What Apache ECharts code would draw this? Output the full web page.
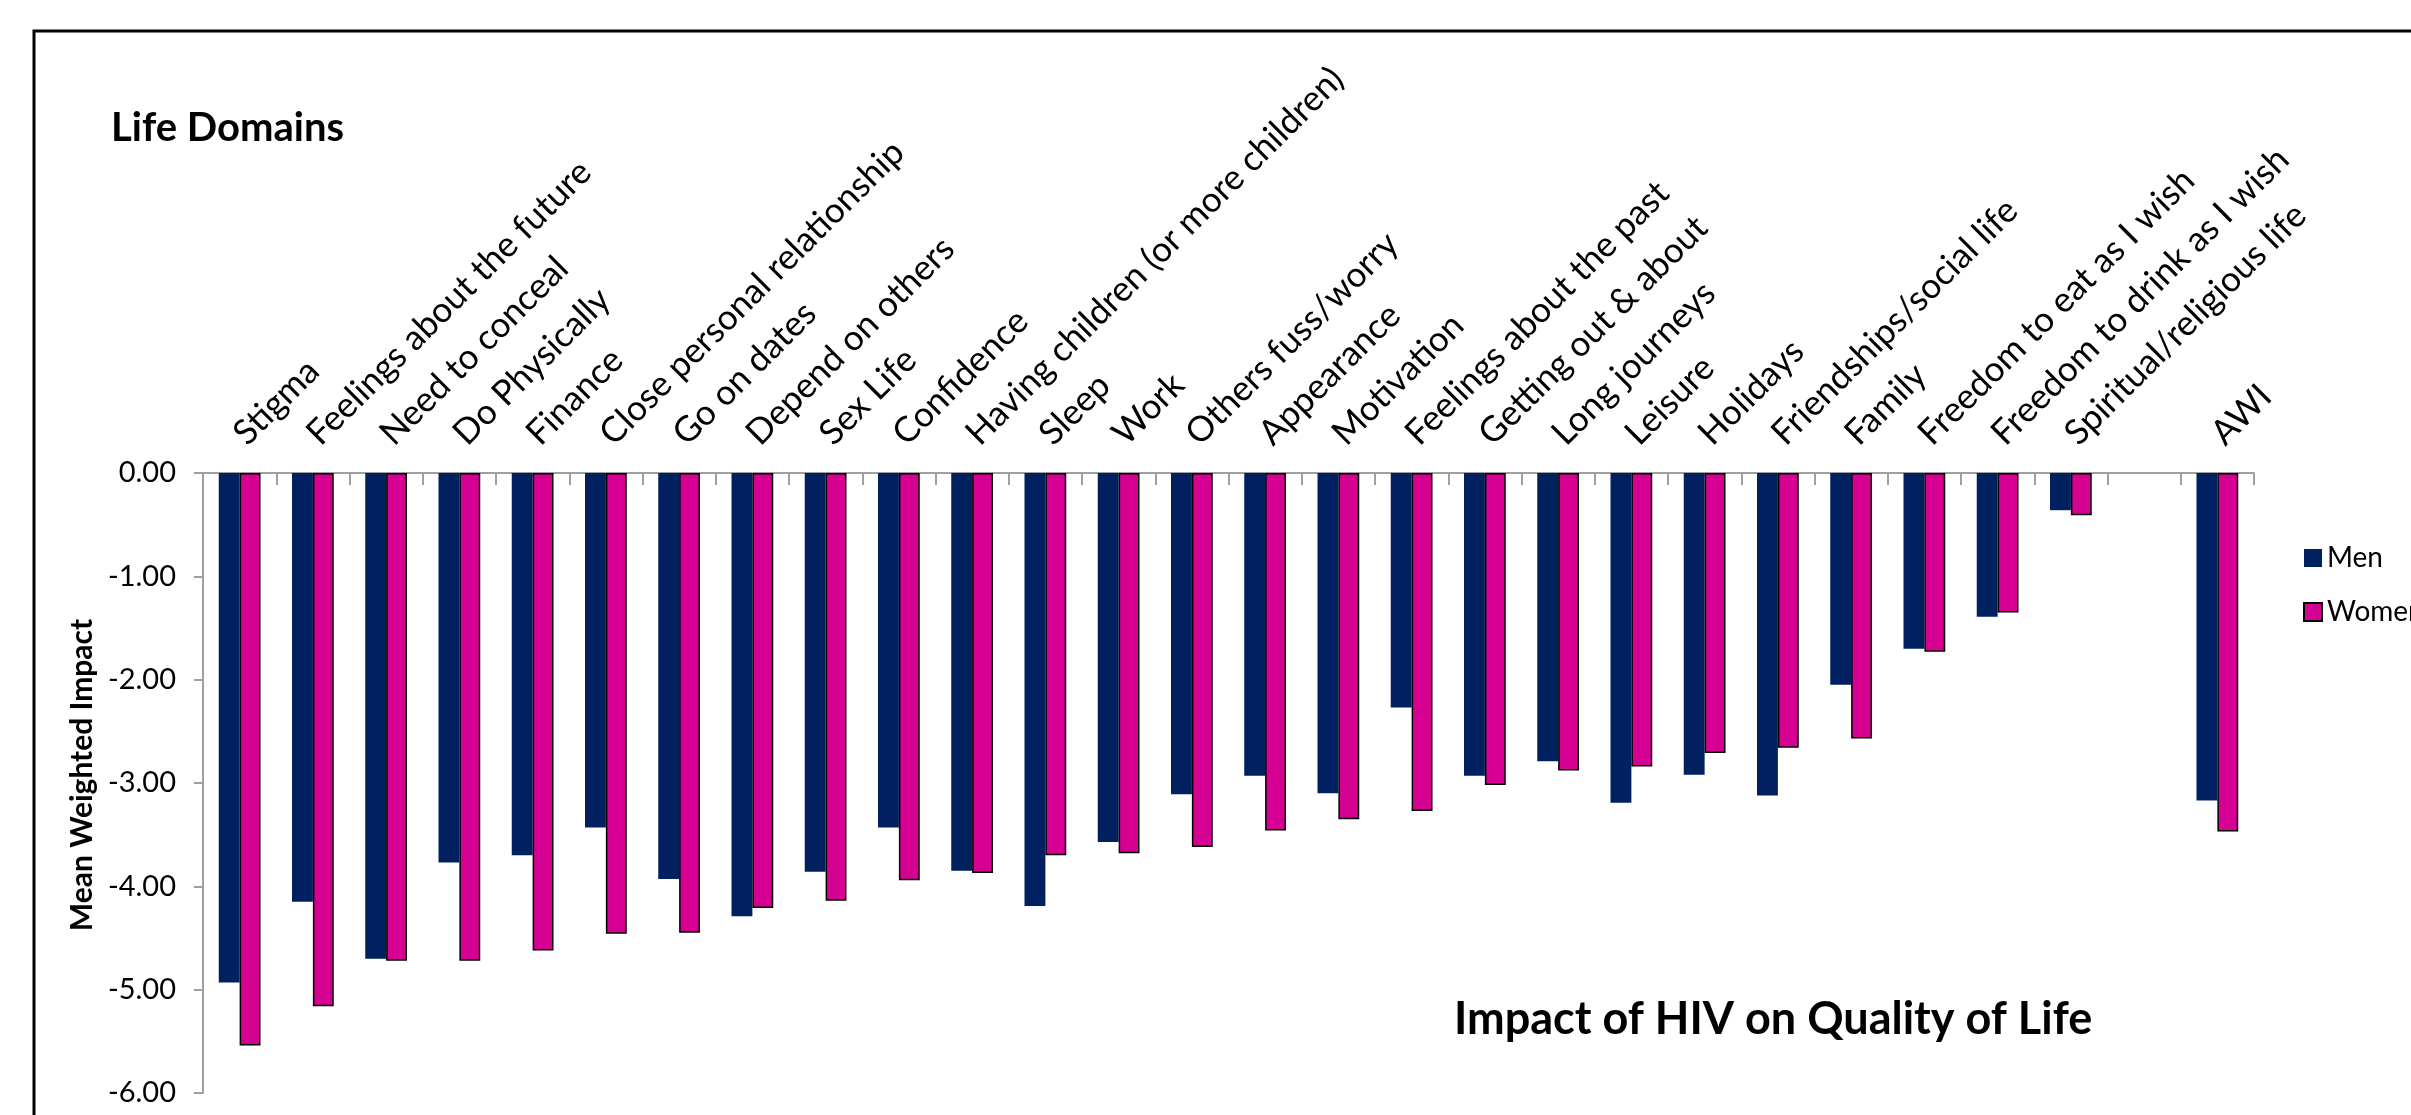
<!DOCTYPE html>
<html>
<head>
<meta charset="utf-8">
<script src="https://cdn.jsdelivr.net/npm/echarts@6/dist/echarts.min.js"></script>
<style>
  html, body { margin: 0; padding: 0; background: #fff; }
  #chart { width: 2411px; height: 1115px; }
</style>
</head>
<body>
<div id="chart"></div>
<script>
const categories = [
  'Stigma', 'Feelings about the future', 'Need to conceal', 'Do Physically', 'Finance',
  'Close personal relationship', 'Go on dates', 'Depend on others', 'Sex Life', 'Confidence',
  'Having children (or more children)', 'Sleep', 'Work', 'Others fuss/worry', 'Appearance',
  'Motivation', 'Feelings about the past', 'Getting out & about', 'Long journeys', 'Leisure',
  'Holidays', 'Friendships/social life', 'Family', 'Freedom to eat as I wish',
  'Freedom to drink as I wish', 'Spiritual/religious life', '', 'AWI'
];
const menValues = [
  -4.93, -4.15, -4.70, -3.77, -3.70, -3.43, -3.93, -4.29, -3.86, -3.43,
  -3.85, -4.19, -3.57, -3.11, -2.93, -3.10, -2.27, -2.93, -2.79, -3.19,
  -2.92, -3.12, -2.05, -1.70, -1.39, -0.36, null, -3.17
];
const womenValues = [
  -5.54, -5.16, -4.72, -4.72, -4.62, -4.46, -4.45, -4.21, -4.14, -3.94,
  -3.87, -3.70, -3.68, -3.62, -3.46, -3.35, -3.27, -3.02, -2.88, -2.84,
  -2.71, -2.66, -2.57, -1.73, -1.35, -0.41, null, -3.47
];
const seriesNames = ['Men', 'Women'];
const yTicks = { min: -6, max: 0, interval: 1 };

const FONT = 'Lato, "Open Sans", "Noto Sans", sans-serif';
const AXIS_GRAY = '#a0a0a0';

const chart = echarts.init(document.getElementById('chart'), null, { renderer: 'canvas' });
chart.setOption({
  backgroundColor: '#ffffff',
  animation: false,
  textStyle: { fontFamily: FONT, color: '#000' },
  graphic: [{
    type: 'rect',
    shape: { x: 34, y: 31, width: 3000, height: 3000 },
    style: { fill: 'none', stroke: '#000', lineWidth: 3 },
    silent: true
  }],
  title: [
    {
      text: 'Life Domains',
      left: 106, top: 103,
      textStyle: { fontFamily: FONT, fontWeight: 'bold', fontSize: 40, color: '#000' }
    },
    {
      text: 'Impact of HIV on Quality of Life',
      left: 1449, top: 992,
      textStyle: { fontFamily: FONT, fontWeight: 'bold', fontSize: 45, color: '#000' }
    }
  ],
  legend: {
    orient: 'vertical',
    left: 2298, top: 539,
    itemWidth: 18, itemHeight: 18, itemGap: 26,
    icon: 'rect',
    textStyle: { fontFamily: FONT, fontSize: 28, color: '#000' },
    data: seriesNames
  },
  grid: { left: 203, right: 157, top: 473, bottom: 22, containLabel: false },
  xAxis: {
    type: 'category',
    position: 'top',
    data: categories,
    axisLine: { show: true, lineStyle: { color: AXIS_GRAY, width: 2 } },
    axisTick: { show: true, inside: true, length: 12, lineStyle: { color: AXIS_GRAY, width: 2 } },
    axisLabel: {
      interval: 0, rotate: 45, margin: 34,
      fontFamily: FONT, fontSize: 35, color: '#000'
    },
    splitLine: { show: false }
  },
  yAxis: {
    type: 'value',
    min: yTicks.min, max: yTicks.max, interval: yTicks.interval,
    name: 'Mean Weighted Impact',
    nameLocation: 'middle',
    nameRotate: 90,
    nameGap: 104,
    nameTextStyle: { fontFamily: FONT, fontWeight: 'bold', fontSize: 30, color: '#000', padding: [0, 0, 0, 16] },
    axisLine: { show: true, lineStyle: { color: AXIS_GRAY, width: 2 } },
    axisTick: { show: true, length: 9, lineStyle: { color: AXIS_GRAY, width: 2 } },
    axisLabel: {
      margin: 27, fontFamily: FONT, fontSize: 29, color: '#000',
      formatter: v => v.toFixed(2)
    },
    splitLine: { show: false }
  },
  series: [
    {
      name: seriesNames[0], type: 'bar', data: menValues,
      barGap: '0%', barCategoryGap: '43%',
      itemStyle: { color: '#002060' }
    },
    {
      name: seriesNames[1], type: 'bar', data: womenValues,
      barGap: '0%', barCategoryGap: '43%',
      itemStyle: { color: '#D60093', borderColor: '#000', borderWidth: 1.5 }
    }
  ]
});
</script>
</body>
</html>
